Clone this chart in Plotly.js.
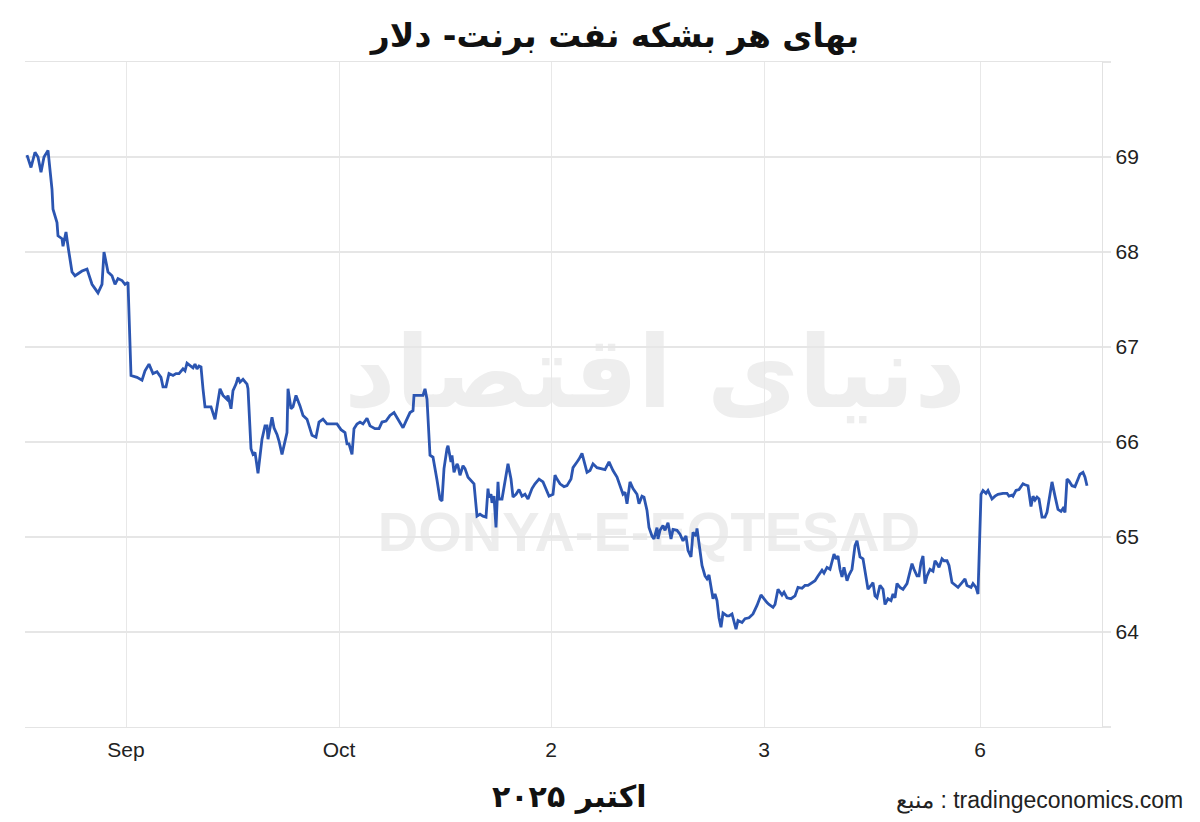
<!DOCTYPE html>
<html>
<head>
<meta charset="utf-8">
<script src="https://cdn.plot.ly/plotly-3.0.1.min.js"></script>
<style>
  html, body { margin: 0; padding: 0; background: #ffffff; }
  #wrap { position: relative; width: 1200px; height: 822px; overflow: hidden; }
  .wm { position: absolute; transform: translate(-50%, -50%); white-space: nowrap; pointer-events: none; z-index: 0; }
  #wmFa { left: 655px; top: 372px; font-family: "DejaVu Sans", sans-serif; font-weight: bold; font-size: 100px; color: #eeeeee; direction: rtl; }
  #wmEn { left: 649px; top: 531px; font-family: "Liberation Sans", Arial, sans-serif; font-weight: bold; font-size: 56px; color: #ededed; }
  #chart { position: absolute; left: 0; top: 0; width: 1200px; height: 822px; z-index: 1; }
</style>
</head>
<body>
<div id="wrap">
  <div class="wm" id="wmFa">دنیای اقتصاد</div>
  <div class="wm" id="wmEn">DONYA-E-EQTESAD</div>
  <div id="chart"></div>
</div>
<script>
// Trading-time position of each observation (one trading day ≈ 213 units; 0 = "Sep" tick)
const t = [
  -99,-95,-91,-88,-85,-82,-78,-74,-73,-69,
  -68,-64,-63,-60,-58,-54,-51,-48,-44,-39,
  -34,-28,-24,-22,-18,-14,-11,-8,-4,-1,
  2,5,11,16,19,23,27,31,35,37,
  40,43,47,50,53,57,59,61,64,67,
  69,71,73,75,77,79,81,85,89,94,
  97,101,102,105,107,110,112,114,117,121,
  122,125,127,129,130,132,136,139,141,142,
  146,148,151,153,156,158,161,162,165,167,
  170,174,177,181,186,190,193,197,201,207,
  211,215,219,221,223,226,228,231,234,237,
  241,244,249,253,256,260,264,268,272,277,
  280,284,287,288,292,297,299,301,304,307,
  311,314,316,318,321,322,325,326,328,331,
  332,334,337,339,342,346,348,351,354,357,
  360,362,363,365,366,368,370,372,373,376,
  378,381,382,385,387,390,393,396,399,402,
  406,409,413,417,420,423,427,429,431,434,
  438,441,445,447,451,453,456,458,461,464,
  467,471,474,479,483,487,491,494,497,499,
  501,504,507,511,513,516,518,521,523,526,
  528,531,532,534,537,539,542,545,547,551,
  554,557,560,562,565,567,570,571,573,576,
  579,581,583,585,587,589,591,593,595,597,
  601,603,606,607,610,612,616,619,623,627,
  631,635,637,641,643,647,649,652,656,658,
  661,665,669,672,676,679,682,686,689,692,
  696,698,701,704,706,708,710,712,714,716,
  718,721,723,726,729,731,734,737,740,742,
  745,747,749,751,754,757,759,762,765,767,
  769,771,774,777,781,783,786,788,791,793,
  795,797,799,801,804,807,809,811,813,816,
  818,821,823,826,829,832,836,839,841,845,
  847,850,852,855,857,860,862,866,869,872,
  877,881,883,886,887,890,893,897,899,902,
  905,907,909,911,913,916,919,921,924,926,
  929,932,935,937,939,941,943,946,949,951,
  954,957,959,961
];

// Brent crude price, USD per barrel
const price = [
  69.02,68.89,69.05,69.00,68.84,69.00,69.07,68.66,68.45,68.31,
  68.17,68.14,68.06,68.21,68.06,67.79,67.75,67.77,67.80,67.82,
  67.66,67.57,67.66,68.00,67.79,67.75,67.66,67.72,67.70,67.66,
  67.68,66.70,66.68,66.65,66.75,66.82,66.72,66.74,66.68,66.58,
  66.58,66.72,66.70,66.72,66.72,66.77,66.75,66.83,66.80,66.78,
  66.82,66.77,66.80,66.79,66.56,66.37,66.37,66.37,66.24,66.56,
  66.49,66.45,66.49,66.35,66.54,66.61,66.68,66.63,66.66,66.61,
  66.56,65.93,65.87,65.89,65.82,65.67,66.03,66.17,66.17,66.03,
  66.26,66.15,66.08,66.01,65.87,65.96,66.10,66.56,66.35,66.37,
  66.49,66.38,66.28,66.24,66.07,66.05,66.21,66.24,66.19,66.19,
  66.19,66.13,66.10,65.98,65.98,65.87,66.14,66.19,66.21,66.19,
  66.25,66.17,66.14,66.14,66.21,66.22,66.28,66.31,66.24,66.15,
  66.22,66.31,66.33,66.49,66.49,66.49,66.56,66.45,65.86,65.84,
  65.60,65.40,65.38,65.72,65.93,65.96,65.79,65.86,65.68,65.77,
  65.75,65.65,65.75,65.72,65.63,65.58,65.56,65.22,65.24,65.22,
  65.21,65.51,65.42,65.45,65.36,65.43,65.10,65.58,65.40,65.40,
  65.52,65.72,65.77,65.61,65.42,65.45,65.50,65.43,65.45,65.40,
  65.51,65.56,65.61,65.58,65.51,65.43,65.45,65.65,65.61,65.56,
  65.53,65.54,65.61,65.73,65.79,65.82,65.88,65.79,65.68,65.70,
  65.77,65.73,65.72,65.71,65.79,65.70,65.63,65.54,65.45,65.47,
  65.35,65.58,65.51,65.45,65.35,65.43,65.42,65.28,65.10,65.01,
  64.98,65.10,64.98,65.07,65.12,65.07,65.15,64.98,65.08,65.07,
  65.03,64.96,65.01,64.86,64.79,65.05,65.01,65.09,64.91,64.70,
  64.59,64.56,64.60,64.49,64.35,64.40,64.33,64.15,64.05,64.20,
  64.17,64.17,64.19,64.15,64.03,64.12,64.10,64.14,64.15,64.19,
  64.28,64.39,64.36,64.31,64.29,64.26,64.29,64.45,64.39,64.42,
  64.36,64.35,64.38,64.47,64.46,64.49,64.49,64.52,64.54,64.59,
  64.65,64.62,64.68,64.66,64.74,64.82,64.77,64.80,64.66,64.58,
  64.68,64.54,64.60,64.66,64.91,64.96,64.79,64.77,64.58,64.45,
  64.49,64.52,64.38,64.36,64.49,64.45,64.29,64.35,64.33,64.40,
  64.36,64.51,64.47,64.45,64.51,64.59,64.72,64.66,64.59,64.59,
  64.73,64.80,64.51,64.59,64.66,64.64,64.75,64.72,64.68,64.77,
  64.75,64.75,64.70,64.52,64.49,64.47,64.52,64.56,64.49,64.47,
  64.51,64.47,64.40,65.45,65.49,65.46,65.49,65.40,65.43,65.45,
  65.46,65.46,65.43,65.44,65.43,65.49,65.50,65.56,65.55,65.54,
  65.32,65.43,65.39,65.42,65.40,65.21,65.21,65.26,65.45,65.58,
  65.43,65.29,65.27,65.30,65.26,65.61,65.59,65.54,65.53,65.58,
  65.66,65.68,65.63,65.54
];

// Axis ticks
const xTickPos = [0, 213, 425, 638, 854];
const xTickLabels = ["Sep", "Oct", "2", "3", "6"];
const yTickVals = [63, 64, 65, 66, 67, 68, 69, 70];
const yTickLabels = ["", "64", "65", "66", "67", "68", "69", ""];

const titleText = "بهای هر بشکه نفت برنت- دلار";
const dateText = "اکتبر ۲۰۲۵";
const sourceText = "منبع : tradingeconomics.com";

const trace = {
  x: t,
  y: price,
  type: "scatter",
  mode: "lines",
  line: { color: "#2b55b1", width: 2.8 },
  hoverinfo: "x+y",
  showlegend: false
};

const layout = {
  width: 1200,
  height: 822,
  margin: { l: 25, r: 98, t: 62, b: 95 },
  paper_bgcolor: "rgba(0,0,0,0)",
  plot_bgcolor: "rgba(0,0,0,0)",
  title: {
    text: titleText,
    font: { family: "DejaVu Sans, sans-serif", size: 33, color: "#111111", weight: "bold" },
    x: 0.5125, xanchor: "center",
    y: 0.957, yanchor: "middle", yref: "container"
  },
  xaxis: {
    range: [-101, 976],
    tickmode: "array",
    tickvals: xTickPos,
    ticktext: xTickLabels,
    showgrid: true,
    gridcolor: "#e8e8e8",
    gridwidth: 1,
    zeroline: false,
    showline: true,
    mirror: true,
    linecolor: "#e4e4e4",
    linewidth: 1.3,
    ticks: "",
    ticklabelstandoff: 3,
    tickfont: { family: "Liberation Sans, Arial, sans-serif", size: 21, color: "#222222" },
    fixedrange: true
  },
  yaxis: {
    side: "right",
    range: [63, 70],
    tickmode: "array",
    tickvals: yTickVals,
    ticktext: yTickLabels,
    showgrid: true,
    gridcolor: "#e6e6e6",
    gridwidth: 1.3,
    zeroline: false,
    showline: true,
    linecolor: "#e2e2e2",
    linewidth: 1.3,
    ticks: "outside",
    ticklen: 8,
    tickcolor: "#e6e6e6",
    tickwidth: 1.3,
    tickfont: { family: "Liberation Sans, Arial, sans-serif", size: 21, color: "#222222" },
    fixedrange: true
  },
  annotations: [
    {
      text: dateText,
      xref: "paper", yref: "paper",
      x: 0.506, y: -0.105,
      xanchor: "center", yanchor: "middle",
      showarrow: false,
      font: { family: "DejaVu Sans, sans-serif", size: 30, color: "#111111", weight: "bold" }
    },
    {
      text: sourceText,
      xref: "paper", yref: "paper",
      x: 1.077, y: -0.111,
      xanchor: "right", yanchor: "middle",
      showarrow: false,
      font: { family: "Liberation Sans, Arial, sans-serif", size: 23, color: "#222222" }
    }
  ]
};

Plotly.newPlot("chart", [trace], layout, { displayModeBar: false, staticPlot: true });
</script>
</body>
</html>
